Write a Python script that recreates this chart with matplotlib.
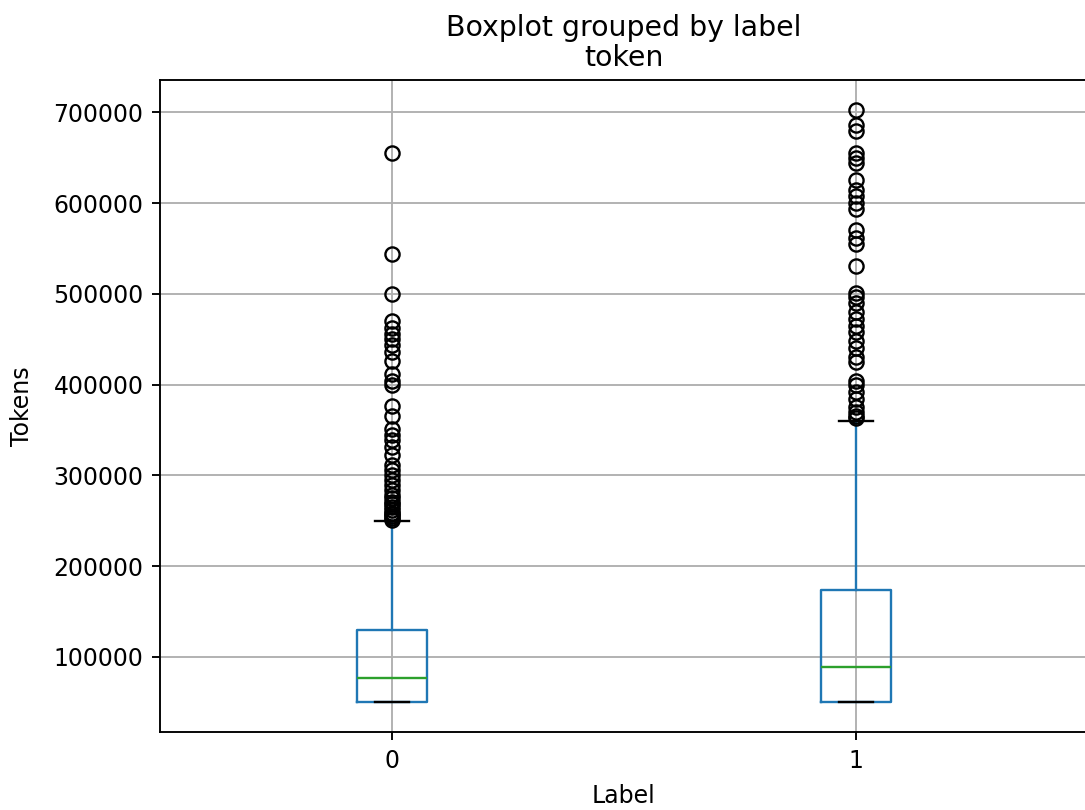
import matplotlib
matplotlib.use("Agg")
import matplotlib.pyplot as plt

# --- DATA ---
labels = ["0", "1"]

# box stats per label: whisker low, Q1, median, Q3, whisker high
whislo = [50000, 50000]
q1 = [50000, 50000]
med = [76500, 89500]
q3 = [130000, 174000]
whishi = [250000, 360000]

fliers_0 = [655000, 544000, 500000, 470000, 462000, 456000, 450000, 444000,
            436000, 426000, 412000, 404000, 400000, 376000, 366000, 351000,
            345000, 339000, 331000, 322000, 312000, 306000, 300000, 295000,
            289000, 284000, 279000, 275000, 271000, 268000, 265000, 262000,
            259000, 257000, 255000, 253000, 251000]
fliers_1 = [703000, 686000, 680000, 655000, 650000, 644000, 625000, 615000,
            608000, 600000, 594000, 570000, 562000, 555000, 531000, 501000,
            497000, 490000, 480000, 472000, 465000, 458000, 448000, 440000,
            431000, 425000, 404000, 400000, 392000, 384000, 375000, 370000,
            366000, 363000]
fliers = [fliers_0, fliers_1]

stats = []
for i in range(len(labels)):
    stats.append({"whislo": whislo[i], "q1": q1[i], "med": med[i],
                  "q3": q3[i], "whishi": whishi[i], "fliers": fliers[i]})

# --- PLOT ---
DPI = 170
fig = plt.figure(figsize=(1085 / DPI, 810 / DPI), dpi=DPI)
ax = fig.add_axes([160 / 1085, 78 / 810, 928 / 1085, 652 / 810])

ax.bxp(stats, positions=[1, 2], widths=0.15,
       boxprops=dict(color="C0"),
       whiskerprops=dict(color="C0"),
       medianprops=dict(color="C2"),
       capprops=dict(color="black"),
       flierprops=dict(marker="o", markerfacecolor="none",
                       markeredgecolor="black"))

ax.set_xticks([1, 2])
ax.set_xticklabels(labels)
ax.set_xlim(0.5, 2.5)
ax.grid(True)
ax.set_axisbelow(True)

ax.set_title("token")
fig.suptitle("Boxplot grouped by label", x=624 / 1085, y=1 - 14 / 810)
ax.set_xlabel("Label", labelpad=5)
ax.set_ylabel("Tokens", labelpad=8)

fig.savefig("out.png", dpi=DPI)
